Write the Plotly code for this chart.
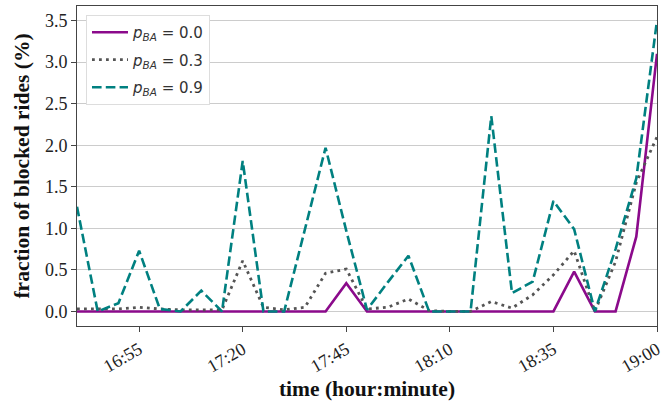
import plotly.graph_objects as go

times = ["16:40", "16:45", "16:50", "16:55", "17:00", "17:05", "17:10", "17:15",
         "17:20", "17:25", "17:30", "17:35", "17:40", "17:45", "17:50", "17:55",
         "18:00", "18:05", "18:10", "18:15", "18:20", "18:25", "18:30", "18:35",
         "18:40", "18:45", "18:50", "18:55", "19:00"]

p00 = [0, 0, 0, 0, 0, 0, 0, 0, 0, 0, 0, 0, 0, 0.34, 0, 0, 0, 0, 0, 0, 0, 0, 0, 0,
       0.48, 0, 0, 0.9, 3.1]
p03 = [0.03, 0.03, 0.03, 0.05, 0.03, 0.02, 0.02, 0.02, 0.61, 0.05, 0.02, 0.05,
       0.46, 0.51, 0.03, 0.05, 0.15, 0.01, 0.0, 0.0, 0.12, 0.04, 0.2, 0.44,
       0.73, 0.0, 0.6, 1.55, 2.1]
p09 = [1.26, 0.0, 0.1, 0.73, 0.03, 0.0, 0.25, 0.0, 1.81, 0.0, 0.0, 1.0, 1.97,
       0.97, 0.02, 0.35, 0.67, 0.0, 0.0, 0.0, 2.35, 0.22, 0.36, 1.33, 0.99,
       0.0, 0.75, 1.6, 3.5]

tick_labels = ["16:55", "17:20", "17:45", "18:10", "18:35", "19:00"]
y_ticks = [0.0, 0.5, 1.0, 1.5, 2.0, 2.5, 3.0, 3.5]

DAY = "2020-01-01 "
x = [DAY + t for t in times]

fig = go.Figure()
fig.add_trace(go.Scatter(x=x, y=p00, mode="lines", legendgroup="a",
                         name="<i>p</i><sub><i>BA</i></sub> = 0.0",
                         line=dict(color="#8b0a8b", width=2.6)))
fig.add_trace(go.Scatter(x=x, y=p03, mode="lines", legendgroup="b",
                         name="<i>p</i><sub><i>BA</i></sub> = 0.3",
                         line=dict(color="#555555", width=2.8, dash="2.8px,4.2px")))
fig.add_trace(go.Scatter(x=x, y=p09, mode="lines", legendgroup="c",
                         name="<i>p</i><sub><i>BA</i></sub> = 0.9",
                         line=dict(color="#008080", width=2.6, dash="9.6px,4.2px")))

fig.update_layout(
    width=669, height=404,
    margin=dict(l=77, r=12, t=6, b=78),
    paper_bgcolor="white", plot_bgcolor="white",
    font=dict(family="Liberation Serif", size=18, color="#222222"),
    legend=dict(x=0.0155, y=0.972, xanchor="left", yanchor="top",
                bgcolor="white", bordercolor="#dddddd", borderwidth=1,
                font=dict(family="DejaVu Sans", size=15, color="#333333"),
                traceorder="grouped", tracegroupgap=5, itemwidth=36),
    xaxis=dict(
        type="date",
        range=[DAY + "16:40", DAY + "19:00"],
        tickvals=[DAY + t for t in tick_labels],
        ticktext=tick_labels,
        tickangle=-30,
        ticks="outside", ticklen=5, tickcolor="#444444",
        showgrid=False, zeroline=False,
        showline=True, mirror=True, linecolor="#444444", linewidth=1,
        tickfont=dict(family="Liberation Serif", size=18, color="#222222"),
        title=dict(text="<b>time (hour:minute)</b>", standoff=5,
                   font=dict(family="Liberation Serif", size=21.5, color="#111111")),
    ),
    yaxis=dict(
        range=[-0.175, 3.675],
        tickvals=y_ticks,
        tickformat=".1f",
        ticks="outside", ticklen=5, tickcolor="#444444",
        showgrid=True, gridcolor="#cccccc", gridwidth=1,
        zeroline=False,
        showline=True, mirror=True, linecolor="#444444", linewidth=1,
        tickfont=dict(family="Liberation Serif", size=18, color="#222222"),
        title=dict(text="<b>fraction of blocked rides (%)</b>", standoff=9,
                   font=dict(family="Liberation Serif", size=21.5, color="#111111")),
    ),
)

fig.write_html("out.html")
